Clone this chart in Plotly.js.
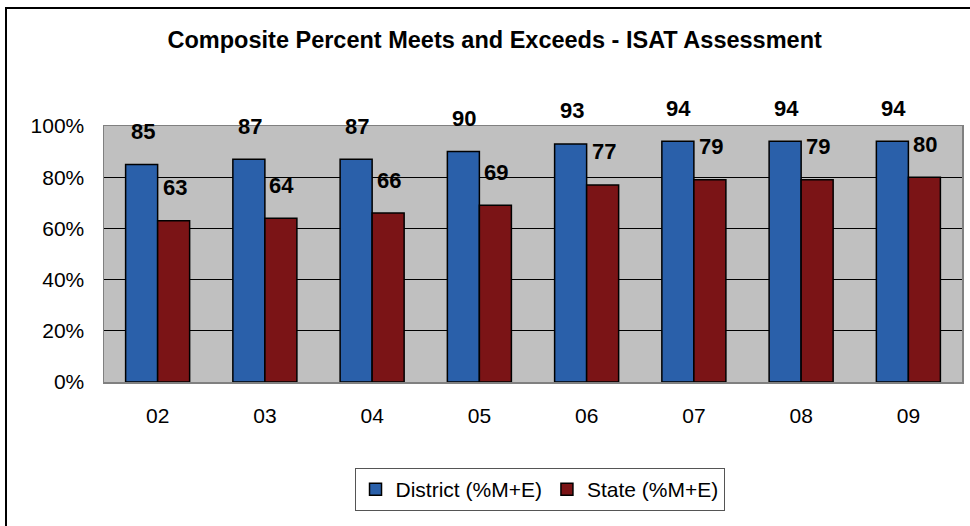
<!DOCTYPE html>
<html>
<head>
<meta charset="utf-8">
<script src="https://cdn.plot.ly/plotly-3.0.1.min.js"></script>
<style>
  html, body { margin: 0; padding: 0; background: #fff; }
  #wrap { position: relative; width: 970px; height: 526px; overflow: hidden; }
  #chart { width: 970px; height: 526px; }
  .frameTop { position: absolute; left: 5px; top: 7px; width: 965px; height: 2px; background: #000; }
  .frameLeft { position: absolute; left: 5px; top: 7px; width: 2px; height: 519px; background: #000; }
</style>
</head>
<body>
<div id="wrap">
  <div id="chart"></div>
  <div class="frameTop"></div>
  <div class="frameLeft"></div>
</div>
<script>
const years = ['02', '03', '04', '05', '06', '07', '08', '09'];
const districtValues = [85, 87, 87, 90, 93, 94, 94, 94];
const stateValues = [63, 64, 66, 69, 77, 79, 79, 80];
const seriesNames = ['District (%M+E)', 'State (%M+E)'];
const yTicks = [0, 20, 40, 60, 80, 100];

const FONT = '"Liberation Sans", Arial, sans-serif';

const traces = [
  {
    type: 'bar', name: seriesNames[0], x: years, y: districtValues,
    marker: { color: '#2A60AA', line: { color: '#000', width: 1.5 } },
    hoverinfo: 'skip'
  },
  {
    type: 'bar', name: seriesNames[1], x: years, y: stateValues,
    marker: { color: '#7B1416', line: { color: '#000', width: 1.5 } },
    hoverinfo: 'skip'
  }
];

const annotations = [];
years.forEach((yr, i) => {
  // category axis position = index of the category
  annotations.push({
    x: i, y: districtValues[i], xref: 'x', yref: 'y',
    text: String(districtValues[i]), showarrow: false,
    xshift: -15, yshift: 33, yanchor: 'middle',
    font: { family: FONT, size: 22, color: '#000', weight: 'bold' }
  });
  annotations.push({
    x: i, y: stateValues[i], xref: 'x', yref: 'y',
    text: String(stateValues[i]), showarrow: false,
    xshift: 17, yshift: 33, yanchor: 'middle',
    font: { family: FONT, size: 22, color: '#000', weight: 'bold' }
  });
});

const layout = {
  width: 970, height: 526,
  margin: { l: 104, r: 8, t: 126, b: 144 },
  paper_bgcolor: '#fff',
  plot_bgcolor: '#C0C0C0',
  font: { family: FONT, color: '#000', size: 21 },
  title: {
    text: '<b>Composite Percent Meets and Exceeds - ISAT Assessment</b>',
    font: { family: FONT, size: 23.5, color: '#000' },
    x: 0.51, xanchor: 'center', y: 0.924, yanchor: 'middle'
  },
  barmode: 'group',
  bargap: 0.403,
  bargroupgap: 0,
  xaxis: {
    type: 'category',
    showline: true, linecolor: '#808080', linewidth: 1.5, mirror: true,
    ticks: '', showgrid: false,
    ticklabelstandoff: 14,
    tickfont: { family: FONT, size: 21, color: '#000' }
  },
  yaxis: {
    range: [0, 100], tickvals: yTicks, ticktext: yTicks.map(v => v + '%'),
    showgrid: true, gridcolor: '#000', gridwidth: 1,
    showline: true, linecolor: '#808080', linewidth: 1.5, mirror: true,
    zeroline: false, ticks: '',
    ticklabelstandoff: 14,
    tickfont: { family: FONT, size: 21, color: '#000' }
  },
  showlegend: true,
  legend: {
    orientation: 'h', x: 0.5076, xanchor: 'center', y: -0.336, yanchor: 'top',
    bordercolor: '#555', borderwidth: 1, bgcolor: '#fff',
    font: { family: FONT, size: 21, color: '#000' },
    traceorder: 'normal'
  },
  annotations: annotations
};

Plotly.newPlot('chart', traces, layout, { displayModeBar: false, staticPlot: true });
</script>
</body>
</html>
